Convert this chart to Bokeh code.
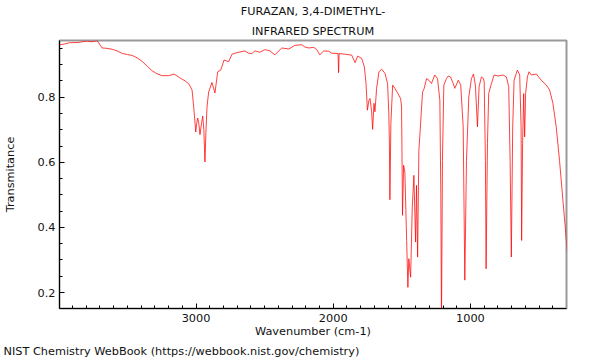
from bokeh.plotting import figure
from bokeh.models import FixedTicker, Range1d, ColumnDataSource, Title
from bokeh.embed import file_html
from bokeh.resources import INLINE

# ---- data ----
wavenumber = [
    3996, 3960, 3924, 3860, 3800, 3760, 3720, 3684, 3650, 3611, 3575, 3538, 3500, 3465,
    3430, 3393, 3355, 3320, 3285, 3247, 3200, 3160, 3120, 3080, 3051, 3029, 3017, 3002,
    2995, 2988, 2980, 2971, 2960, 2951, 2943, 2935, 2928, 2920, 2908, 2884, 2862, 2842,
    2820, 2796, 2762, 2738, 2700, 2644, 2617, 2593, 2571, 2535, 2498, 2462, 2425, 2375,
    2324, 2280, 2229, 2207, 2178, 2142, 2120, 2098, 2069, 2033, 2011, 1965, 1961, 1957,
    1916, 1865, 1841, 1822, 1793, 1773, 1761, 1751, 1740, 1732, 1720, 1713, 1703, 1696,
    1684, 1667, 1647, 1623, 1604, 1595, 1591, 1587, 1580, 1567, 1551, 1531, 1509, 1502,
    1495, 1487, 1478, 1465, 1456, 1449, 1436, 1424, 1412, 1400, 1393, 1385, 1376, 1366,
    1356, 1349, 1337, 1320, 1303, 1284, 1260, 1240, 1223, 1216, 1211, 1204, 1194, 1175,
    1162, 1145, 1126, 1114, 1089, 1071, 1053, 1041, 1029, 1012, 993, 978, 964, 949,
    937, 920, 905, 900, 891, 886, 876, 867, 847, 828, 799, 762, 738, 721,
    711, 702, 692, 682, 658, 641, 631, 627, 620, 612, 605, 598, 585, 573,
    556, 520, 484, 447, 423, 399, 375, 351, 326, 307, 295,
]
transmittance = [
    0.961, 0.963, 0.967, 0.968, 0.972, 0.970, 0.973, 0.951, 0.950, 0.947, 0.942, 0.934, 0.931, 0.928,
    0.921, 0.910, 0.895, 0.881, 0.872, 0.866, 0.866, 0.871, 0.860, 0.850, 0.840, 0.822, 0.770, 0.693,
    0.720, 0.736, 0.720, 0.685, 0.720, 0.742, 0.700, 0.601, 0.690, 0.770, 0.816, 0.845, 0.813, 0.878,
    0.883, 0.914, 0.909, 0.932, 0.937, 0.942, 0.935, 0.934, 0.942, 0.938, 0.946, 0.942, 0.930, 0.951,
    0.948, 0.959, 0.961, 0.954, 0.951, 0.953, 0.946, 0.930, 0.942, 0.941, 0.935, 0.934, 0.875, 0.934,
    0.932, 0.929, 0.906, 0.926, 0.919, 0.893, 0.842, 0.760, 0.790, 0.796, 0.755, 0.701, 0.781, 0.755,
    0.827, 0.878, 0.886, 0.873, 0.842, 0.750, 0.668, 0.485, 0.719, 0.837, 0.827, 0.813, 0.796, 0.770,
    0.437, 0.591, 0.570, 0.360, 0.216, 0.304, 0.247, 0.462, 0.560, 0.355, 0.529, 0.309, 0.637, 0.700,
    0.770, 0.816, 0.827, 0.857, 0.852, 0.842, 0.868, 0.857, 0.791, 0.505, 0.100, 0.606, 0.837, 0.857,
    0.865, 0.862, 0.842, 0.827, 0.852, 0.837, 0.709, 0.238, 0.606, 0.801, 0.857, 0.871, 0.837, 0.709,
    0.832, 0.862, 0.857, 0.847, 0.606, 0.273, 0.657, 0.811, 0.842, 0.868, 0.865, 0.868, 0.862, 0.832,
    0.606, 0.309, 0.709, 0.852, 0.883, 0.868, 0.709, 0.360, 0.657, 0.811, 0.678, 0.811, 0.862, 0.878,
    0.868, 0.871, 0.852, 0.837, 0.822, 0.781, 0.709, 0.606, 0.483, 0.391, 0.324,
]

x_major_ticks = [1000, 2000, 3000]
x_minor_ticks = list(range(400, 4000, 100))
y_major_ticks = [0.2, 0.4, 0.6, 0.8]
y_minor_ticks = [0.15, 0.25, 0.3, 0.35, 0.45, 0.5, 0.55, 0.65, 0.7, 0.75, 0.85, 0.9, 0.95]

title_lines = ["FURAZAN, 3,4-DIMETHYL-", "INFRARED SPECTRUM"]
x_label = "Wavenumber (cm-1)"
y_label = "Transmitance"
footer = "NIST Chemistry WebBook (https://webbook.nist.gov/chemistry)"

FONT = "DejaVu Sans"
FS = "11.3px"
TXT = "#111111"

p = figure(width=600, height=360, output_backend="svg", toolbar_location=None, title=None,
           x_range=Range1d(3995, 300), y_range=Range1d(0.151, 0.974),
           min_border_left=57, min_border_right=34, min_border_top=40, min_border_bottom=52)
p.xgrid.visible = False
p.ygrid.visible = False
p.background_fill_color = "white"
p.border_fill_color = "white"
p.outline_line_color = "#999999"
p.outline_line_width = 2

src = ColumnDataSource(dict(wn=wavenumber, t=transmittance))
p.line("wn", "t", source=src, line_color="#ff0000", line_width=1, line_alpha=0.75)

for ax, maj, mnr in ((p.xaxis[0], x_major_ticks, x_minor_ticks), (p.yaxis[0], y_major_ticks, y_minor_ticks)):
    ax.ticker = FixedTicker(ticks=maj, minor_ticks=mnr)
    ax.major_tick_in = 5
    ax.major_tick_out = 0
    ax.minor_tick_in = 3
    ax.minor_tick_out = 0
    ax.axis_line_color = "#000000"
    ax.major_tick_line_color = "#000000"
    ax.minor_tick_line_color = "#000000"
    ax.major_label_text_font = FONT
    ax.major_label_text_font_size = FS
    ax.major_label_text_color = TXT
    ax.axis_label_text_font = FONT
    ax.axis_label_text_font_size = FS
    ax.axis_label_text_font_style = "normal"
    ax.axis_label_text_color = TXT
p.xaxis.major_label_standoff = 5
p.yaxis.major_label_standoff = 4
p.xaxis.axis_label = x_label
p.yaxis.axis_label = y_label
p.xaxis.axis_label_standoff = 0
p.yaxis.axis_label_standoff = 18

# titles: the last one added to "above" is the farthest from the frame
p.add_layout(Title(text=title_lines[1], align="center", text_font=FONT, text_font_size=FS,
                   text_font_style="normal", text_color=TXT, standoff=6), "above")
p.add_layout(Title(text=title_lines[0], align="center", text_font=FONT, text_font_size=FS,
                   text_font_style="normal", text_color=TXT, standoff=3), "above")
p.add_layout(Title(text=footer, align="left", offset=-56, text_font=FONT, text_font_size=FS,
                   text_font_style="normal", text_color=TXT, standoff=4), "below")

open("out.html", "w").write(file_html(p, INLINE))
